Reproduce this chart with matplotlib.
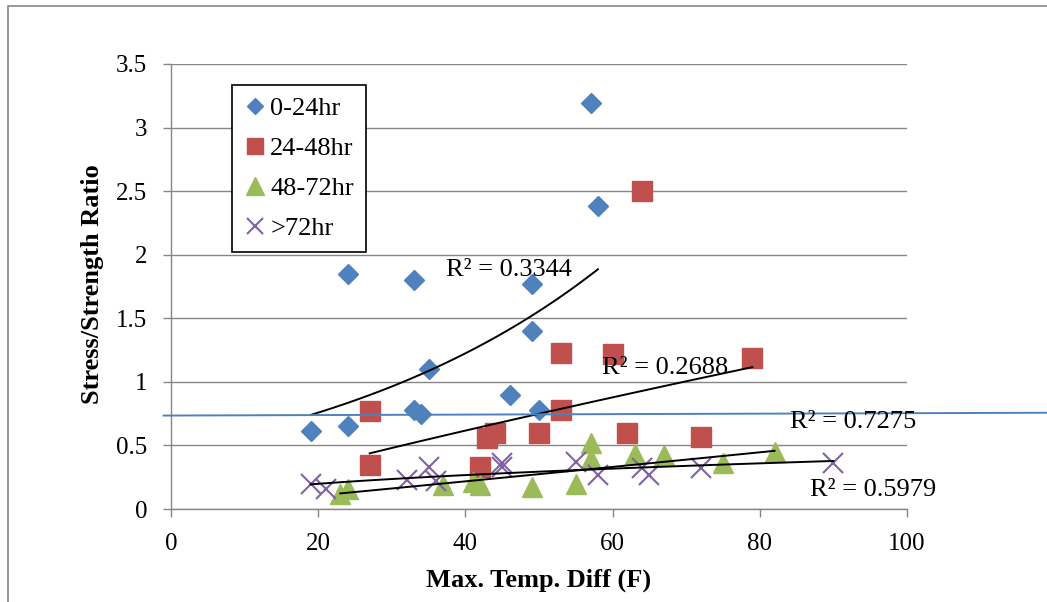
import numpy as np
import matplotlib.pyplot as plt
from matplotlib.patches import Rectangle

plt.rcParams["font.family"] = ["Liberation Serif", "DejaVu Serif"]

# Stress/strength ratio vs max temperature difference, grouped by age
x_0_24 = [19, 24, 24, 33, 33, 34, 35, 46, 49, 49, 50, 57, 58]
y_0_24 = [0.61, 0.65, 1.85, 1.80, 0.78, 0.75, 1.10, 0.90, 1.77, 1.40, 0.78, 3.19, 2.38]

x_24_48 = [27, 27, 42, 43, 44, 50, 53, 53, 60, 62, 64, 72, 79]
y_24_48 = [0.77, 0.35, 0.33, 0.56, 0.60, 0.60, 0.78, 1.23, 1.22, 0.60, 2.50, 0.57, 1.19]

x_48_72 = [23, 24, 37, 41, 42, 49, 55, 57, 57, 63, 67, 75, 82]
y_48_72 = [0.12, 0.16, 0.19, 0.215, 0.19, 0.175, 0.20, 0.52, 0.39, 0.43, 0.425, 0.365, 0.45]

x_72 = [19, 21, 32, 35, 36, 45, 45, 55, 58, 64, 65, 72, 90]
y_72 = [0.20, 0.16, 0.23, 0.33, 0.22, 0.33, 0.36, 0.37, 0.27, 0.32, 0.27, 0.32, 0.365]

# R² labels as printed on the chart
r2_labels = ["R² = 0.3344", "R² = 0.2688", "R² = 0.7275", "R² = 0.5979"]
r2_pos = [(37.4, 1.88), (58.5, 1.11), (84.1, 0.685), (86.8, 0.15)]

# stray blue line across the chart
blue_line_x = [-1, 119]
blue_line_y = [0.735, 0.757]

BLUE = "#4F81BD"
RED = "#C0504D"
GREEN = "#9BBB59"
PURPLE = "#8064A2"
GRID = "#868686"


def expFit(x, y):
    '''Exponential trendline y = a*exp(b*x), fitted in log space like Excel.'''
    x = np.asarray(x, float)
    b, lna = np.polyfit(x, np.log(y), 1)
    xs = np.linspace(x.min(), x.max(), 100)
    return xs, np.exp(lna) * np.exp(b * xs)


def powerFit(x, y):
    '''Power trendline y = a*x^b, fitted in log-log space like Excel.'''
    x = np.asarray(x, float)
    b, lna = np.polyfit(np.log(x), np.log(y), 1)
    xs = np.linspace(x.min(), x.max(), 100)
    return xs, np.exp(lna) * xs ** b


fig = plt.figure(figsize=(10.47, 6.02), dpi=100)
ax = fig.add_axes([171 / 1047, 93 / 602, 736 / 1047, 445 / 602])

ax.plot(x_0_24, y_0_24, "D", color=BLUE, markersize=10, label="0-24hr", zorder=3)
ax.plot(x_24_48, y_24_48, "s", color=RED, markersize=14, label="24-48hr", zorder=3)
ax.plot(x_48_72, y_48_72, "^", color=GREEN, markersize=15, label="48-72hr", zorder=3)
ax.plot(x_72, y_72, "x", color=PURPLE, markersize=14, markeredgewidth=1.5,
        label=">72hr", zorder=3)

# Trendlines
for xs, ys in [expFit(x_0_24, y_0_24), powerFit(x_24_48, y_24_48),
               powerFit(x_48_72, y_48_72), powerFit(x_72, y_72)]:
    ax.plot(xs, ys, "-", color="black", linewidth=1.4, zorder=4)

ax.plot(blue_line_x, blue_line_y, "-", color=BLUE, linewidth=1.4, zorder=4, clip_on=False)

for text, (tx, ty) in zip(r2_labels, r2_pos):
    ax.text(tx, ty, text, fontsize=19, ha="left", va="center", zorder=5)

ax.set_xlim(0, 100)
ax.set_ylim(0, 3.5)
ax.set_xticks(np.arange(0, 101, 20))
ax.set_yticks(np.arange(0, 3.51, 0.5))
ax.set_yticklabels([f"{v:g}" for v in np.arange(0, 3.51, 0.5)])

ax.grid(axis="y", color=GRID, linewidth=1.0)
ax.set_axisbelow(True)
for side in ["top", "right"]:
    ax.spines[side].set_visible(False)
for side in ["left", "bottom"]:
    ax.spines[side].set_color(GRID)
    ax.spines[side].set_linewidth(1.0)
ax.tick_params(axis="both", colors=GRID, labelcolor="black", labelsize=18,
               length=6, width=1.0, direction="out")
ax.tick_params(axis="x", pad=11)
ax.tick_params(axis="y", pad=11)

ax.set_xlabel("Max. Temp. Diff (F)", fontsize=19, fontweight="bold", va="center")
ax.xaxis.set_label_coords(0.5, -0.16)
ax.set_ylabel("Stress/Strength Ratio", fontsize=19, fontweight="bold", va="center")
ax.yaxis.set_label_coords(-0.106, 0.505)

leg = ax.legend(loc="upper left", bbox_to_anchor=(0.083, 0.953), fontsize=19,
                numpoints=1, handlelength=0.8, handletextpad=0.2, markerscale=0.85,
                borderpad=0.45, labelspacing=0.62, borderaxespad=0,
                fancybox=False, framealpha=1, edgecolor="black")
leg.get_frame().set_linewidth(1.2)

# Outer chart border
fig.add_artist(Rectangle((8 / 1047, -0.1), 1.2, 1.09, transform=fig.transFigure,
                         fill=False, edgecolor=GRID, linewidth=1.2))

plt.savefig("out.png", dpi=100)
plt.close()
